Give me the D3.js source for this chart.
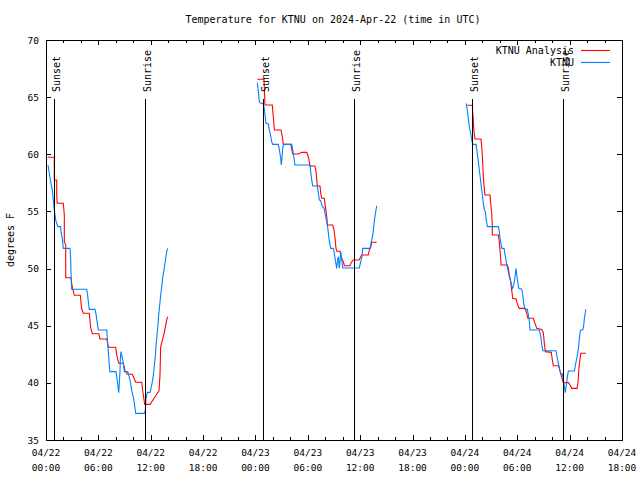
<!DOCTYPE html>
<html><head><meta charset="utf-8">
<script src="https://cdn.jsdelivr.net/npm/d3@7"></script>
<style>body{margin:0;background:#fff}svg{display:block}</style>
</head><body>
<svg id="c" width="640" height="480"></svg>
<script>
// ---- data: hours since 2024-04-22 00:00 UTC, temperature (F)
const analysisSeg1 = [[0.23,59.74],[0.95,59.74],[0.95,57.75],[1.23,57.75],[1.23,56.38],[1.29,55.71],[1.98,55.71],[2.10,54.69],[2.10,52.3],[2.26,52.1],[2.26,49.2],[2.86,49.2],[2.98,48.5],[3.24,47.66],[3.93,47.66],[4.09,46.46],[4.27,46.09],[4.96,46.09],[5.12,44.83],[5.31,44.30],[6.04,44.30],[6.19,43.84],[6.96,43.84],[7.14,43.11],[7.99,43.11],[8.10,42.44],[8.33,41.71],[8.86,41.71],[9.05,41.06],[9.32,40.75],[9.89,40.75],[10.28,40.05],[10.97,40.05],[11.08,39.31],[11.31,38.12],[11.92,38.12],[12.49,38.79],[12.95,39.31],[13.06,40.63],[13.14,43.16],[13.56,44.42],[13.83,45.50],[13.94,45.79]];
const analysisSeg2 = [[24.21,66.56],[24.98,66.56],[25.09,64.31],[25.93,64.31],[26.05,63.23],[26.17,62.13],[26.93,62.13],[27.08,61.54],[27.19,60.87],[28.04,60.87],[28.15,60.44],[28.27,60.03],[28.91,60.03],[29.30,60.17],[29.87,60.17],[29.99,59.94],[30.14,59.50],[30.25,58.98],[30.82,58.98],[30.94,58.48],[31.09,57.23],[31.40,57.23],[31.48,56.58],[31.59,56.15],[31.89,56.15],[32.01,55.42],[32.17,54.54],[32.24,53.81],[32.85,53.81],[33.0,53.38],[33.12,52.65],[33.23,51.77],[33.31,51.51],[33.69,51.51],[33.80,51.04],[34.07,50.60],[34.18,50.25],[34.83,50.25],[34.95,50.51],[35.21,50.75],[35.87,50.75],[36.17,51.19],[36.93,51.19],[37.05,51.63],[37.21,51.91],[37.32,52.30],[37.89,52.30]];
const analysisSeg3 = [[48.28,64.29],[48.85,64.29],[48.89,63.73],[48.96,63.0],[49.04,61.98],[49.16,61.34],[49.84,61.34],[49.96,60.38],[50.04,59.21],[50.11,58.04],[50.23,56.88],[50.30,56.44],[50.88,56.44],[50.96,55.71],[51.03,55.13],[51.07,54.84],[51.14,53.81],[51.14,52.94],[51.83,52.94],[51.94,52.35],[52.02,51.63],[52.10,50.90],[52.14,50.31],[52.86,50.31],[52.98,50.02],[53.09,49.44],[53.25,48.85],[53.36,48.13],[53.48,47.40],[53.86,47.34],[54.01,46.96],[54.12,46.66],[54.24,46.52],[54.89,46.52],[55.08,46.09],[55.20,45.65],[55.84,45.65],[56.03,45.21],[56.23,44.77],[56.80,44.68],[56.99,44.34],[57.10,43.46],[57.22,42.73],[57.90,42.67],[58.02,42.0],[58.13,41.50],[58.71,41.50],[58.82,41.27],[58.94,40.89],[59.13,40.40],[59.28,40.02],[59.86,40.02],[60.05,39.81],[60.24,39.52],[60.85,39.52],[60.97,40.10],[61.05,41.13],[61.12,41.71],[61.20,42.15],[61.28,42.59],[61.85,42.59]];
const obsSeg1 = [[0.23,59.06],[0.38,58.34],[0.57,57.46],[0.72,56.88],[0.84,56.0],[0.95,55.13],[1.11,54.25],[1.34,53.67],[1.68,53.67],[1.72,53.23],[1.87,52.65],[1.98,51.77],[2.75,51.77],[2.83,50.81],[2.86,49.73],[2.94,48.19],[4.66,48.19],[4.77,47.69],[4.85,47.10],[4.96,46.43],[5.61,46.43],[5.73,46.03],[5.88,45.21],[6.0,44.63],[6.96,44.63],[7.03,43.90],[7.14,42.73],[7.25,41.56],[7.33,40.98],[8.02,40.98],[8.10,40.54],[8.21,39.96],[8.33,39.14],[8.40,40.01],[8.48,40.98],[8.51,42.0],[8.59,42.73],[8.67,42.44],[8.86,41.71],[8.98,40.98],[9.36,40.98],[9.47,40.69],[9.63,40.25],[9.74,39.75],[9.85,39.23],[10.0,38.79],[10.12,38.21],[10.28,37.33],[11.27,37.33],[11.38,37.56],[11.46,38.65],[11.61,39.17],[11.92,39.17],[12.03,39.52],[12.15,39.96],[12.30,40.69],[12.41,41.50],[12.52,42.29],[12.60,43.16],[12.72,44.19],[12.83,45.06],[12.91,45.94],[13.03,46.81],[13.14,47.69],[13.26,48.42],[13.37,49.15],[13.49,49.73],[13.60,50.31],[13.72,50.90],[13.83,51.48],[13.94,51.77]];
const obsSeg2 = [[24.21,66.26],[24.33,65.48],[24.44,64.60],[24.60,64.46],[24.83,64.46],[24.98,64.16],[25.09,63.44],[25.21,62.71],[25.47,62.65],[25.59,62.13],[25.75,61.60],[25.86,61.10],[25.98,60.87],[26.62,60.87],[26.74,60.38],[26.89,59.65],[26.96,59.06],[27.04,59.65],[27.12,60.52],[27.24,60.87],[28.15,60.87],[28.27,60.38],[28.42,59.65],[28.53,59.06],[30.25,59.06],[30.37,58.19],[30.48,57.60],[30.56,57.23],[31.09,57.23],[31.21,56.58],[31.32,56.0],[31.48,55.94],[31.59,55.56],[31.71,55.42],[31.86,55.27],[31.97,54.84],[32.09,54.40],[32.24,53.81],[32.36,53.08],[32.47,52.35],[32.62,51.77],[32.92,51.77],[33.04,51.33],[33.15,50.75],[33.31,50.02],[33.38,50.60],[33.50,51.04],[33.61,50.02],[33.69,50.75],[33.77,51.48],[33.88,50.75],[34.0,50.05],[35.90,50.05],[36.06,50.60],[36.21,51.04],[36.29,51.77],[37.13,51.77],[37.24,52.21],[37.36,52.65],[37.47,53.08],[37.55,53.67],[37.66,54.40],[37.78,54.98],[37.89,55.48]];
const obsSeg3 = [[48.13,64.46],[48.28,63.87],[48.39,63.15],[48.51,62.41],[48.66,61.84],[48.78,61.25],[48.89,60.87],[49.27,60.87],[49.42,60.09],[49.54,59.35],[49.65,58.63],[49.77,57.90],[49.88,57.17],[50.0,56.44],[50.11,55.71],[50.23,55.13],[50.34,54.98],[50.42,54.40],[50.57,53.67],[51.83,53.67],[51.94,53.23],[52.02,52.65],[52.14,52.21],[52.22,51.77],[52.48,51.77],[52.60,51.19],[52.71,50.75],[52.79,50.31],[52.98,49.73],[53.09,49.29],[53.25,48.85],[53.36,48.48],[53.48,48.27],[53.63,48.71],[53.74,49.29],[53.86,50.02],[53.94,49.44],[54.05,48.85],[54.17,48.27],[54.51,48.19],[54.63,47.69],[54.74,46.96],[54.89,46.43],[55.16,46.43],[55.27,45.94],[55.39,45.35],[55.46,44.63],[56.53,44.63],[56.69,44.04],[56.80,43.46],[56.92,42.81],[58.44,42.81],[58.52,42.44],[58.63,42.0],[58.75,41.56],[58.86,41.13],[58.98,40.83],[59.17,40.78],[59.28,40.10],[59.40,39.66],[59.51,39.14],[59.59,39.66],[59.67,40.10],[59.74,40.54],[59.86,41.04],[60.55,41.04],[60.66,41.56],[60.78,42.0],[60.89,42.44],[61.01,43.02],[61.08,43.60],[61.20,44.48],[61.28,44.63],[61.50,44.63],[61.62,45.06],[61.69,45.65],[61.76,45.94],[61.85,46.43]];
const sunsetHours = [0.95, 24.9, 48.85];
const sunriseHours = [11.38, 35.33, 59.27];
const yTicks = [35, 40, 45, 50, 55, 60, 65, 70];
const seriesNames = ["KTNU Analysis", "KTNU"];
const seriesColors = ["#ff0000", "#0080ff"];
const titleText = "Temperature for KTNU on 2024-Apr-22 (time in UTC)";
const yLabel = "degrees F";

// ---- layout
const L = 46, R = 622, T = 40, B = 440;
const t0 = Date.UTC(2024, 3, 22, 0);
const toDate = h => new Date(t0 + h * 3600e3);
const x = d3.scaleUtc().domain([toDate(0), toDate(66)]).range([L, R]);
const y = d3.scaleLinear().domain([35, 70]).range([B, T]);
const svg = d3.select("#c");
const mono = "'DejaVu Sans Mono', 'Liberation Mono', monospace";

// frame
svg.append("rect").attr("x", L + 0.5).attr("y", T + 0.5).attr("width", R - L).attr("height", B - T)
  .attr("fill", "none").attr("stroke", "#000").attr("stroke-width", 1).attr("shape-rendering", "crispEdges");

// x ticks (inward, mirrored)
const majors = x.ticks(d3.utcHour.every(6));
const minors = x.ticks(d3.utcHour.every(2)).filter(d => d.getUTCHours() % 6 !== 0);
const tg = svg.append("g").attr("stroke", "#000").attr("shape-rendering", "crispEdges");
majors.forEach(d => {
  const px = Math.round(x(d)) + 0.5;
  tg.append("line").attr("x1", px).attr("x2", px).attr("y1", B).attr("y2", B - 5);
  tg.append("line").attr("x1", px).attr("x2", px).attr("y1", T).attr("y2", T + 5);
});
minors.forEach(d => {
  const px = Math.round(x(d)) + 0.5;
  tg.append("line").attr("x1", px).attr("x2", px).attr("y1", B).attr("y2", B - 3);
  tg.append("line").attr("x1", px).attr("x2", px).attr("y1", T).attr("y2", T + 3);
});
yTicks.forEach(v => {
  const py = Math.round(y(v)) + 0.5;
  tg.append("line").attr("x1", L).attr("x2", L + 5).attr("y1", py).attr("y2", py);
  tg.append("line").attr("x1", R).attr("x2", R - 5).attr("y1", py).attr("y2", py);
});

// x labels
const fmtD = d3.utcFormat("%m/%d"), fmtT = d3.utcFormat("%H:%M");
const xl = svg.append("g").attr("font-family", mono).attr("font-size", "9.5px").attr("text-anchor", "middle").attr("fill", "#000");
majors.forEach(d => {
  xl.append("text").attr("x", x(d)).attr("y", 456).text(fmtD(d));
  xl.append("text").attr("x", x(d)).attr("y", 471).text(fmtT(d));
});
// y labels
const yl = svg.append("g").attr("font-family", mono).attr("font-size", "9.5px").attr("text-anchor", "end").attr("fill", "#000");
yTicks.forEach(v => yl.append("text").attr("x", 39).attr("y", y(v) + 3.5).text(v));

// title & axis label
svg.append("text").attr("x", 333).attr("y", 23).attr("text-anchor", "middle")
  .attr("font-family", mono).attr("font-size", "10px").text(titleText);
svg.append("text").attr("transform", "translate(14,240) rotate(-90)").attr("text-anchor", "middle")
  .attr("font-family", mono).attr("font-size", "10px").text(yLabel);

// data lines
const line = d3.line().x(d => x(toDate(d[0]))).y(d => y(d[1]));
const seriesSegs = [[analysisSeg1, analysisSeg2, analysisSeg3], [obsSeg1, obsSeg2, obsSeg3]];
seriesSegs.forEach((segs, i) => {
  segs.forEach(seg => svg.append("path").attr("d", line(seg)).attr("fill", "none")
    .attr("stroke", seriesColors[i]).attr("stroke-width", 1.1).attr("stroke-linejoin", "miter"));
});

// sunrise / sunset markers
const ev = sunsetHours.map(h => ({h, label: "Sunset"})).concat(sunriseHours.map(h => ({h, label: "Sunrise"})));
ev.forEach(e => {
  const px = Math.round(x(toDate(e.h))) + 0.5;
  svg.append("line").attr("x1", px).attr("x2", px).attr("y1", 99).attr("y2", B)
    .attr("stroke", "#000").attr("stroke-width", 1).attr("shape-rendering", "crispEdges");
  svg.append("text").attr("transform", `translate(${px + 5},92) rotate(-90)`).attr("text-anchor", "start")
    .attr("font-family", mono).attr("font-size", "10px").text(e.label);
});

// legend
seriesNames.forEach((n, i) => {
  const ly = 50 + i * 12;
  svg.append("text").attr("x", 574).attr("y", ly + 3.5).attr("text-anchor", "end")
    .attr("font-family", mono).attr("font-size", "10px").text(n);
  svg.append("line").attr("x1", 581).attr("x2", 610).attr("y1", ly + 0.5).attr("y2", ly + 0.5)
    .attr("stroke", seriesColors[i]).attr("stroke-width", 1.1);
});
</script>
</body></html>
